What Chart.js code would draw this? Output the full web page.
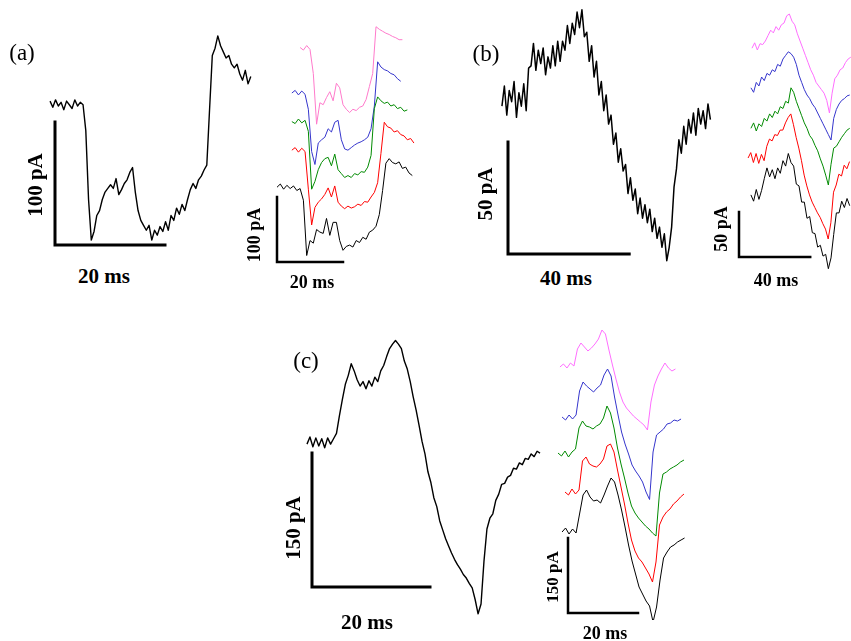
<!DOCTYPE html>
<html>
<head>
<meta charset="utf-8">
<script src="https://cdn.jsdelivr.net/npm/chart.js@4.4.1/dist/chart.umd.min.js"></script>
<style>
  body { margin: 0; background: #fff; }
  #page { position: relative; width: 851px; height: 641px; overflow: hidden;
          font-family: 'Liberation Serif', 'Times New Roman', serif; }
  canvas { position: absolute; }
  .lbl { position: absolute; font-weight: bold; white-space: nowrap;
         transform: translate(-50%, -50%); color: #000; }
  .rot { transform: translate(-50%, -50%) rotate(-90deg); }
  .tag { position: absolute; font-size: 23px; transform: translate(-50%, -50%); }
</style>
</head>
<body>
<div id="page"></div>
<script>
// ---- data: current traces (ms, pA) ----
// each trace: start time, sample step, values
// (a) single trace
const aMainT0 = -0.9, aMainDt = 0.5;
const aMain = [117,112,118,113,116,110,117,114,111,118,113,116,114,93,37,4,11,24,28,37,
  43,46,49,46,54,41,45,50,53,59,63,43,28,20,16,12,16,4,12,8,15,11,19,12,24,20,30,25,33,28,
  37,45,50,46,53,56,61,65,110,154,160,170,162,157,152,154,147,144,147,139,134,142,131,137];

// (a) stacked traces: black, red, green, blue, pink
const aDt = 1;
const aStart = [0, 4.5, 4.5, 4.5, 7];
const aOffsets = [115, 172, 216, 260, 330];
const aBlack = [0,5,-3,3,-2,2,-5,-2,-20,-105,-82,-86,-65,-69,-71,-48,-74,-54,-54,-82,-97,-91,
  -89,-92,-82,-85,-77,-80,-69,-66,-60,-42,-5,37,44,38,36,39,29,31,22,18];
const aRed = [0,4,-3,3,-2,-60,-115,-88,-80,-75,-68,-58,-72,-55,-80,-86,-90,-86,-89,-87,-83,-85,
  -79,-80,-72,-65,-50,-5,43,36,34,28,30,24,22,16,18,11];
const aGreen = [0,-3,4,-2,2,-15,-104,-92,-74,-63,-57,-55,-68,-50,-74,-80,-86,-83,-86,-80,-82,-77,
  -78,-70,-52,20,38,32,28,30,24,26,20,22,16,18];
const aBlue = [0,4,-3,3,-2,-25,-90,-110,-77,-72,-68,-55,-60,-45,-42,-72,-86,-88,-84,-80,-77,-75,
  -72,-68,-55,-20,48,40,36,34,30,28,22,18];
const aPink = [0,-4,3,-3,-40,-118,-85,-88,-77,-68,-82,-55,-62,-88,-95,-100,-95,-97,-92,-90,-80,
  -60,-40,32,28,25,22,20,17,15,12,12];

// (b) single trace
const bMainT0 = -2, bMainDt = 0.8;
const bMain = [66,75,62,73,68,77,61,72,66,76,64,83,84,94,82,91,85,92,80,88,83,93,84,95,86,95,
  91,102,94,103,98,108,101,109,97,99,86,93,79,86,71,77,64,71,58,62,49,54,41,47,37,40,27,34,
  24,29,18,25,16,22,14,20,10,16,7,12,3,9,-3,3,12,30,38,51,45,57,49,60,54,63,53,65,58,64,56,67,60];

// (b) stacked traces
const bDt = 1.5;
const bStart = [6.7, 5.1, 6.7, 6.7, 7.3];
const bOffsets = [69, 110, 143, 188, 232];
const bBlack = [0,-7,6,-5,5,18,30,20,28,18,30,24,38,32,46,36,32,12,10,-8,-8,-26,-24,-42,-43,
  -58,-56,-68,-66,-82,-70,-44,-20,-20,-7,-14,-4,-12];
const bRed = [0,6,-5,5,-6,4,-3,13,21,19,26,25,31,31,39,45,49,37,23,11,-3,-19,-31,-41,-49,-55,
  -61,-66,-73,-79,-90,-72,-38,-30,-18,-20,-8,-12,-4];
const bGreen = [0,6,-3,5,2,11,8,16,12,19,16,24,22,30,28,45,40,30,22,14,6,0,-8,-12,-19,-25,-34,
  -42,-52,-63,-40,-22,-20,-15,-10,-6,-2,0];
const bBlue = [0,-5,6,2,12,8,16,14,20,18,26,24,32,36,40,38,34,26,14,6,-2,-8,-12,-18,-22,-28,
  -34,-40,-46,-52,-58,-34,-24,-18,-14,-12,-9,-8];
const bPink = [0,6,-2,5,4,8,14,20,17,24,20,26,28,36,38,30,26,16,8,0,-8,-16,-24,-30,-38,-42,
  -46,-50,-58,-72,-50,-34,-30,-24,-22,-16,-12,-10];

// (c) single trace
const cMainT0 = -0.85, cMainDt = 0.5;
const cMain = [160,168,157,167,158,166,156,167,160,166,172,192,210,227,237,250,242,232,225,230,
  222,231,225,235,230,242,248,258,267,272,276,272,267,253,244,230,213,198,181,163,149,129,117,
  100,90,74,64,54,46,38,31,25,20,14,10,4,-1,-14,-30,-19,29,65,77,82,97,104,115,116,123,125,
  133,132,139,137,144,143,149,146,152,150];

// (c) stacked traces
const cDt = 1;
const cStart = [-1.7, -0.86, -2.86, -1.7, -2.3];
const cOffsets = [162, 242, 320, 392, 492];
const cBlack = [0,8,-4,6,-2,36,74,84,70,62,64,58,74,92,108,100,74,44,10,-26,-58,-84,-110,-124,
  -138,-148,-180,-150,-96,-52,-40,-30,-26,-20,-16,-12];
const cRed = [0,-6,6,-4,4,62,70,56,52,50,56,66,92,96,80,44,10,-24,-62,-96,-118,-132,-140,-152,
  -164,-180,-140,-66,-50,-40,-34,-24,-18,-10,-4];
const cGreen = [0,-6,4,-8,2,8,50,64,54,52,48,54,58,70,94,80,50,10,-22,-50,-80,-106,-120,-130,
  -138,-146,-152,-160,-166,-80,-42,-38,-32,-28,-24,-18,-14];
const cBlue = [0,-6,4,-4,4,52,70,62,56,50,58,64,84,96,82,40,4,-30,-54,-74,-96,-108,-118,-130,
  -150,-165,-70,-36,-30,-24,-14,-12,-6,-8,-4];
const cPink = [0,6,-2,8,2,36,48,40,32,38,46,56,74,66,34,4,-24,-50,-70,-82,-90,-98,-104,-110,
  -116,-126,-70,-36,-18,-4,8,-2,-8,-4];

// scale bars [ms, pA]
const aBar = [20, 100], bBar = [40, 50], cBar = [20, 150];

const STACK_COLORS = ['#000000', '#ff0000', '#008a00', '#3535cc'];
const PINK_A = '#ff7acb', PINK_BC = '#ff6eff';

// ---- layout: canvas box in page px, scale-bar corner, px per ms / px per pA ----
const page = document.getElementById('page');

function trace(t0, dt, vals, offset = 0) {
  return vals.map((v, i) => ({ x: t0 + i * dt, y: v + offset }));
}

function lineSet(data, color, width) {
  return { data, borderColor: color, borderWidth: width, pointRadius: 0, tension: 0,
           fill: false, clip: false, borderJoinStyle: 'round' };
}

function barSet(bar, width) {
  return { data: [{ x: 0, y: bar[1] }, { x: 0, y: 0 }, { x: bar[0], y: 0 }],
           borderColor: '#000', borderWidth: width, pointRadius: 0, tension: 0, fill: false,
           clip: false, borderJoinStyle: 'miter', borderCapStyle: 'square' };
}

function panel(p, datasets) {
  const cv = document.createElement('canvas');
  cv.width = p.w; cv.height = p.h;
  cv.style.left = p.left + 'px'; cv.style.top = p.top + 'px';
  page.appendChild(cv);
  new Chart(cv.getContext('2d'), {
    type: 'line',
    data: { datasets },
    options: {
      responsive: false, animation: false, devicePixelRatio: 1,
      layout: { padding: 0 },
      plugins: { legend: { display: false }, tooltip: { enabled: false } },
      scales: {
        x: { type: 'linear', display: false,
             min: (p.left - p.ox) / p.kx, max: (p.left + p.w - p.ox) / p.kx },
        y: { type: 'linear', display: false,
             min: (p.oy - p.top - p.h) / p.ky, max: (p.oy - p.top) / p.ky }
      }
    }
  });
}

function label(text, x, y, size, rotated) {
  const d = document.createElement('div');
  d.className = 'lbl' + (rotated ? ' rot' : '');
  d.style.left = x + 'px'; d.style.top = y + 'px'; d.style.fontSize = size + 'px';
  d.textContent = text;
  page.appendChild(d);
}

function tag(text, x, y) {
  const d = document.createElement('div');
  d.className = 'tag';
  d.style.left = x + 'px'; d.style.top = y + 'px';
  d.textContent = text;
  page.appendChild(d);
}

function stack(starts, dt, offsets, traces, pink) {
  const colors = STACK_COLORS.concat([pink]);
  return traces.map((vals, k) => lineSet(trace(starts[k], dt, vals, offsets[k]), colors[k], 1));
}

// (a)
panel({ left: 40, top: 25, w: 230, h: 235, ox: 55, oy: 245, kx: 5.5, ky: 1.23 },
  [lineSet(trace(aMainT0, aMainDt, aMain), '#000', 1.4), barSet(aBar, 3)]);
panel({ left: 265, top: 10, w: 160, h: 260, ox: 277, oy: 262, kx: 3.3, ky: 0.65 },
  stack(aStart, aDt, aOffsets, [aBlack, aRed, aGreen, aBlue, aPink], PINK_A).concat([barSet(aBar, 2.5)]));

// (b)
panel({ left: 495, top: 5, w: 225, h: 260, ox: 508, oy: 254, kx: 3.03, ky: 2.24 },
  [lineSet(trace(bMainT0, bMainDt, bMain), '#000', 1.5), barSet(bBar, 3)]);
panel({ left: 730, top: 0, w: 121, h: 275, ox: 739, oy: 257, kx: 1.78, ky: 0.9 },
  stack(bStart, bDt, bOffsets, [bBlack, bRed, bGreen, bBlue, bPink], PINK_BC).concat([barSet(bBar, 2.5)]));

// (c)
panel({ left: 300, top: 330, w: 250, h: 295, ox: 312, oy: 587, kx: 5.9, ky: 0.893 },
  [lineSet(trace(cMainT0, cMainDt, cMain), '#000', 1.4), barSet(cBar, 3)]);
panel({ left: 550, top: 315, w: 145, h: 305, ox: 568, oy: 613, kx: 3.5, ky: 0.5 },
  stack(cStart, cDt, cOffsets, [cBlack, cRed, cGreen, cBlue, cPink], PINK_BC).concat([barSet(cBar, 2.5)]));

// scale bar labels and panel letters
label('100 pA', 35, 185, 21, true);
label('20 ms', 104, 276, 21);
label('100 pA', 254, 235, 18, true);
label('20 ms', 312, 282, 18);
label('50 pA', 485, 194, 21, true);
label('40 ms', 566, 278, 21);
label('50 pA', 721, 229, 18, true);
label('40 ms', 776, 280, 18);
label('150 pA', 293, 528, 21, true);
label('20 ms', 367, 622, 21);
label('150 pA', 553, 577, 17, true);
label('20 ms', 605, 633, 18);
tag('(a)', 22, 53);
tag('(b)', 486, 54);
tag('(c)', 306, 361);
</script>
</body>
</html>
